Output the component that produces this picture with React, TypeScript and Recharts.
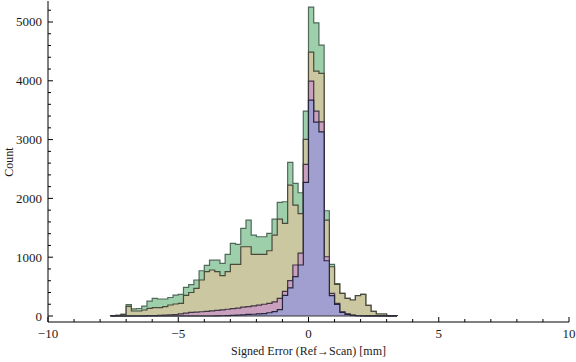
import React from 'react'
import { ComposedChart, Area, XAxis, YAxis, ReferenceLine } from 'recharts'

// histogram bins: 0.2 mm wide, first bin starts at -7.6
const BIN_START = -7.6
const BIN_WIDTH = 0.2

const greenCounts = [
  5, 12, 28, 195, 120, 128, 167, 252, 300, 289, 289, 315, 354, 368, 487, 535, 612, 770, 860, 950,
  950, 896, 1049, 1236, 1219, 1491, 1632, 1377, 1348, 1348, 1406, 1649, 1933, 1943, 2613, 2256, 2096, 3485, 5253, 4986,
  4607, 1790, 879, 550, 386, 301, 272, 345, 369, 182, 80, 34, 34, 8, 8,
]
const oliveCounts = [
  5, 12, 28, 164, 85, 85, 102, 130, 142, 142, 159, 187, 204, 215, 350, 400, 470, 612, 753, 782,
  753, 686, 753, 878, 878, 1178, 1178, 1049, 1049, 1049, 1110, 1377, 1649, 1576, 2227, 1887, 1740, 3004, 4488, 4165,
  4126, 1632, 838, 539, 386, 301, 272, 345, 369, 182, 80, 34, 34, 8, 8,
]
const pinkCounts = [
  0, 0, 0, 0, 0, 0, 3, 5, 8, 12, 15, 18, 22, 35, 50, 60, 65, 72, 80, 88,
  95, 105, 115, 125, 135, 150, 160, 172, 185, 200, 215, 240, 300, 420, 600, 867, 1070, 2579, 3995, 3485,
  3303, 1008, 386, 215, 72, 35, 14, 5, 4, 3, 2, 1, 1, 1, 1,
]
const blueCounts = [
  0, 0, 0, 0, 0, 0, 0, 0, 0, 0, 0, 0, 0, 0, 0, 0, 0, 0, 0, 0,
  2, 4, 6, 10, 14, 20, 26, 30, 35, 40, 55, 75, 110, 350, 480, 668, 867, 2273, 3672, 3298,
  3133, 940, 345, 199, 63, 29, 10, 4, 3, 2, 1, 1, 1, 1, 1,
]

const xTicks = [-10, -9, -8, -7, -6, -5, -4, -3, -2, -1, 0, 1, 2, 3, 4, 5, 6, 7, 8, 9, 10]
const yTicks = Array.from({ length: 27 }, (_, i) => i * 200)

const binEnd = BIN_START + BIN_WIDTH * greenCounts.length
const rows = [
  { x: BIN_START, g: 0, o: 0, p: 0, b: 0 },
  ...greenCounts.map((g, i) => ({
    x: +(BIN_START + BIN_WIDTH * i).toFixed(2),
    g,
    o: oliveCounts[i],
    p: pinkCounts[i],
    b: blueCounts[i],
  })),
  { x: +binEnd.toFixed(2), g: 0, o: 0, p: 0, b: 0 },
]

const SERIF = '"Liberation Serif", "Times New Roman", serif'
const labelStyle = { fontFamily: SERIF, fontSize: 13, fill: '#1a1a1a' }

const fmt = (v: number) => (v < 0 ? '\u2212' + Math.abs(v) : String(v))

const BottomTick = (props: any) => {
  const { x, y, payload } = props
  const major = payload.value % 5 === 0
  return (
    <g>
      <line x1={x} y1={y} x2={x} y2={y - (major ? 5 : 3)} stroke="#000" />
      {major && (
        <text x={x} y={y + 16} textAnchor="middle" style={labelStyle}>
          {fmt(payload.value)}
        </text>
      )}
    </g>
  )
}

const TopTick = (props: any) => {
  const { x, y, payload } = props
  const major = payload.value % 5 === 0
  return <line x1={x} y1={y} x2={x} y2={y + (major ? 5 : 3)} stroke="#000" />
}

const LeftTick = (props: any) => {
  const { x, y, payload } = props
  const major = payload.value % 1000 === 0
  return (
    <g>
      <line x1={x} y1={y} x2={x + (major ? 5 : 3)} y2={y} stroke="#000" />
      {major && (
        <text x={x - 6} y={y + 4.5} textAnchor="end" style={labelStyle}>
          {payload.value}
        </text>
      )}
    </g>
  )
}

const RightTick = (props: any) => {
  const { x, y, payload } = props
  const major = payload.value % 1000 === 0
  return <line x1={x} y1={y} x2={x - (major ? 5 : 3)} y2={y} stroke="#000" />
}

export default function App() {
  return (
    <div style={{ position: 'absolute', left: 0, top: 0, background: '#fff' }}>
      <ComposedChart width={576} height={362} data={rows} margin={{ top: 1, right: 7, left: 0, bottom: 0 }}>
        <XAxis
          xAxisId="bottom"
          dataKey="x"
          type="number"
          domain={[-10, 10]}
          ticks={xTicks}
          interval={0}
          height={40}
          tickSize={0}
          tickMargin={0}
          tickLine={false}
          axisLine={{ stroke: '#000' }}
          tick={BottomTick}
          label={{
            content: () => (
              <text x={308.5} y={355} textAnchor="middle" style={{ fontFamily: SERIF, fontSize: 12, fill: '#1a1a1a' }}>
                Signed Error (Ref{'\u2192'}Scan) [mm]
              </text>
            ),
          }}
        />
        <XAxis
          xAxisId="top"
          orientation="top"
          dataKey="x"
          type="number"
          domain={[-10, 10]}
          ticks={xTicks}
          interval={0}
          height={0}
          tickSize={0}
          tickMargin={0}
          tickLine={false}
          axisLine={{ stroke: '#000' }}
          tick={TopTick}
        />
        <YAxis
          yAxisId="left"
          type="number"
          domain={[-102, 5357]}
          ticks={yTicks}
          interval={0}
          width={48}
          tickSize={0}
          tickMargin={0}
          tickLine={false}
          axisLine={{ stroke: '#000' }}
          tick={LeftTick}
          label={{
            content: () => (
              <text
                x={13}
                y={162}
                textAnchor="middle"
                transform="rotate(-90 13 162)"
                style={{ fontFamily: SERIF, fontSize: 12, fill: '#1a1a1a' }}
              >
                Count
              </text>
            ),
          }}
        />
        <YAxis
          yAxisId="right"
          orientation="right"
          type="number"
          domain={[-102, 5357]}
          ticks={yTicks}
          interval={0}
          width={0}
          tickSize={0}
          tickMargin={0}
          tickLine={false}
          axisLine={{ stroke: '#000' }}
          tick={RightTick}
        />
        <Area
          xAxisId="bottom"
          yAxisId="left"
          dataKey="g"
          type="stepAfter"
          baseValue={0}
          fill="#9ecfab"
          fillOpacity={1}
          stroke="#50695a"
          strokeWidth={1.2}
          dot={false}
          activeDot={false}
          isAnimationActive={false}
        />
        <Area
          xAxisId="bottom"
          yAxisId="left"
          dataKey="o"
          type="stepAfter"
          baseValue={0}
          fill="#cbc7a0"
          fillOpacity={1}
          stroke="#4a4a3c"
          strokeWidth={1.2}
          dot={false}
          activeDot={false}
          isAnimationActive={false}
        />
        <Area
          xAxisId="bottom"
          yAxisId="left"
          dataKey="p"
          type="stepAfter"
          baseValue={0}
          fill="#caa0bf"
          fillOpacity={1}
          stroke="#433643"
          strokeWidth={1.2}
          dot={false}
          activeDot={false}
          isAnimationActive={false}
        />
        <Area
          xAxisId="bottom"
          yAxisId="left"
          dataKey="b"
          type="stepAfter"
          baseValue={0}
          fill="#a09fcf"
          fillOpacity={1}
          stroke="#26263e"
          strokeWidth={1.2}
          dot={false}
          activeDot={false}
          isAnimationActive={false}
        />
        <ReferenceLine
          xAxisId="bottom"
          yAxisId="left"
          segment={[
            { x: BIN_START, y: 0 },
            { x: binEnd, y: 0 },
          ]}
          stroke="#333"
          strokeWidth={1.2}
        />
      </ComposedChart>
    </div>
  )
}
